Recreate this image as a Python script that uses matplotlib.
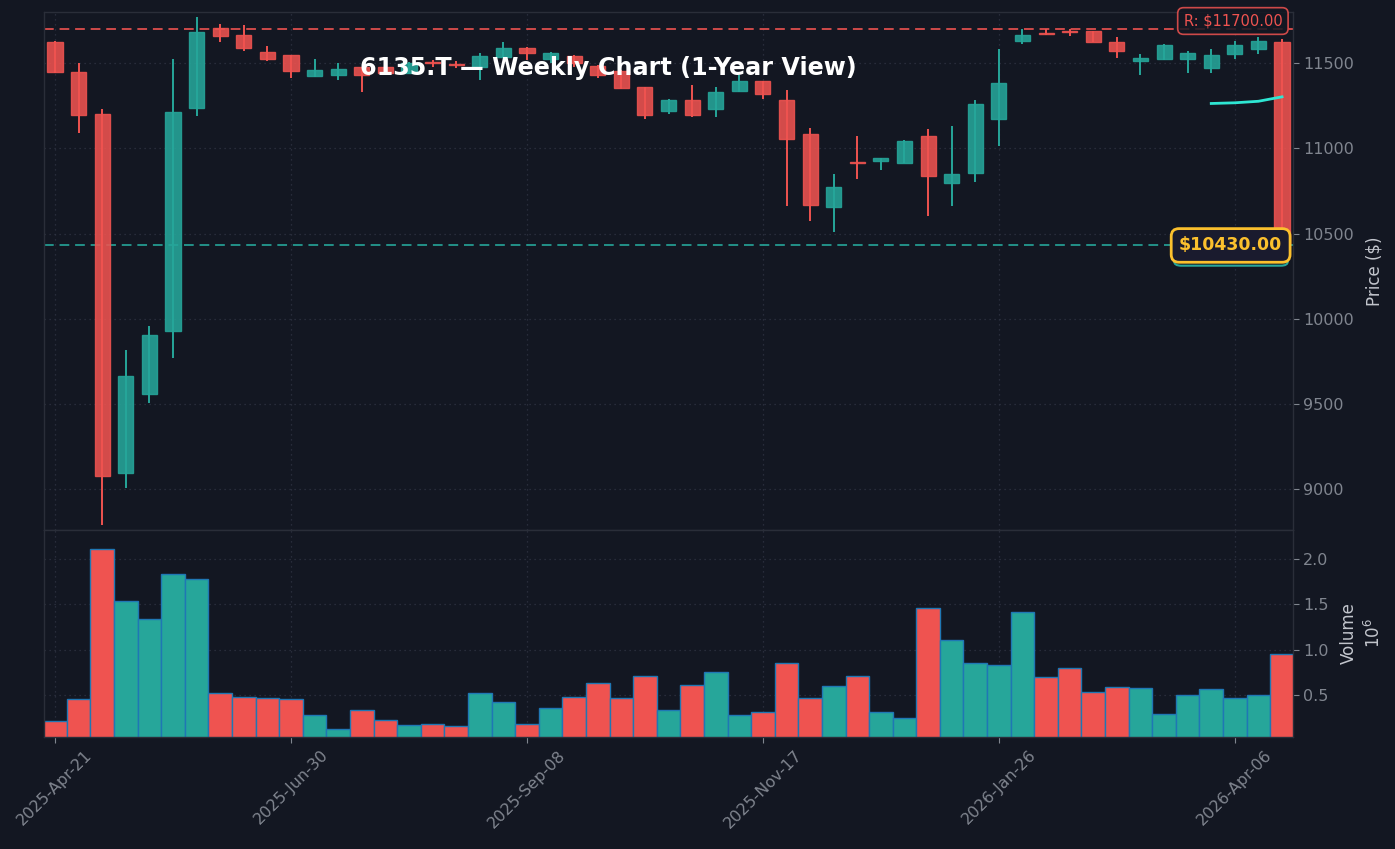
import matplotlib
matplotlib.use("Agg")
import matplotlib.pyplot as plt
import matplotlib.transforms as mtransforms
from matplotlib.patches import FancyBboxPatch
from matplotlib.ticker import FuncFormatter, FixedLocator
import numpy as np
import pandas as pd

# ---------------- data ----------------
start_date = "2025-04-21"
opens = [11625, 11445, 11204, 9093, 9557, 9930, 11239, 11704, 11663, 11563,
         11545, 11422, 11428, 11475, 11475, 11441, 11505, 11495, 11478, 11537,
         11590, 11522, 11543, 11484, 11455, 11357, 11216, 11286, 11228, 11339,
         11392, 11286, 11086, 10655, 10918, 10928, 10916, 11075, 10798, 10857,
         11171, 11627, 11673, 11684, 11686, 11625, 11512, 11522, 11522, 11469,
         11553, 11580, 11625]
highs = [11630, 11498, 11229, 9816, 9959, 11522, 11769, 11729, 11724, 11600,
         11548, 11522, 11498, 11478, 11480, 11505, 11518, 11510, 11557, 11624,
         11595, 11565, 11545, 11487, 11458, 11360, 11288, 11371, 11357, 11428,
         11395, 11341, 11118, 10847, 11071, 10945, 11048, 11112, 11129, 11282,
         11580, 11700, 11698, 11702, 11688, 11653, 11553, 11612, 11571, 11582,
         11629, 11653, 11639]
lows = [11443, 11090, 8787, 9008, 9508, 9767, 11190, 11625, 11572, 11512,
        11414, 11420, 11402, 11331, 11435, 11435, 11475, 11470, 11400, 11530,
        11518, 11498, 11475, 11414, 11348, 11173, 11202, 11184, 11184, 11331,
        11290, 10661, 10572, 10508, 10820, 10871, 10914, 10602, 10661, 10802,
        11014, 11614, 11663, 11657, 11625, 11531, 11429, 11520, 11443, 11443,
        11525, 11555, 10430]
closes = [11449, 11198, 9075, 9661, 9904, 11214, 11684, 11657, 11586, 11522,
          11451, 11457, 11463, 11429, 11440, 11498, 11500, 11490, 11543, 11590,
          11557, 11561, 11498, 11428, 11351, 11198, 11286, 11198, 11333, 11392,
          11316, 11057, 10669, 10775, 10912, 10943, 11045, 10839, 10851, 11261,
          11386, 11663, 11669, 11680, 11625, 11569, 11531, 11606, 11557, 11545,
          11604, 11631, 10430]
volumes = [212000, 458000, 2107000, 1535000, 1337000, 1832000, 1777000, 524000,
           480000, 469000, 458000, 282000, 129000, 337000, 227000, 173000,
           184000, 162000, 524000, 425000, 184000, 359000, 480000, 634000,
           469000, 711000, 337000, 612000, 755000, 282000, 315000, 854000,
           469000, 601000, 711000, 315000, 249000, 1458000, 1107000, 854000,
           832000, 1414000, 700000, 799000, 535000, 590000, 579000, 293000,
           502000, 568000, 469000, 502000, 953000]
ma_start = 49
ma_values = [11263, 11267, 11276, 11302]
resistance = 11700
current_price = 10430
title = "6135.T — Weekly Chart (1-Year View)"

# ---------------- style ----------------
BG = "#131722"
GRID = "#2f3442"
SPINE = "#2a2e39"
UP = "#26a69a"
DOWN = "#ef5350"
TICK = "#80858f"
LABEL = "#c3c6cd"

n = len(opens)
x = np.arange(n)
dates = pd.date_range(start_date, periods=n, freq="7D")
tick_idx = list(range(0, n, 10))
tick_lbl = [dates[i].strftime("%Y-%b-%d") for i in tick_idx]

fig = plt.figure(figsize=(13.95, 8.49), dpi=100, facecolor=BG)
ax = fig.add_axes([0.0315, 0.3757, 0.8953, 0.6102], facecolor=BG)
axv = fig.add_axes([0.0315, 0.1319, 0.8953, 0.2438], facecolor=BG, sharex=ax)

for a in (ax, axv):
    for s in a.spines.values():
        s.set_color(SPINE)
        s.set_linewidth(1.0)
    a.yaxis.tick_right()
    a.yaxis.set_label_position("right")
    a.tick_params(colors=TICK, labelsize=11.5, length=4, width=0.8)
    a.grid(True, linestyle=(0, (1, 3)), color=GRID, linewidth=0.9)
    a.set_axisbelow(True)

# candles
w = 0.64
for i in x:
    o, h, l, c = opens[i], highs[i], lows[i], closes[i]
    col = UP if c >= o else DOWN
    ax.vlines(i, l, h, color=col, linewidth=1.4, zorder=2)
    bot = min(o, c)
    height = max(abs(c - o), 6)
    ax.bar(i, height, bottom=bot, width=w, color=col, alpha=0.88,
           edgecolor=col, linewidth=1.0, zorder=3)

# moving average
ax.plot(x[ma_start:ma_start + len(ma_values)], ma_values, color="#2ee6d3",
        linewidth=2.0, zorder=4)

# reference lines
ax.axhline(resistance, color=DOWN, linestyle=(0, (5, 3)), linewidth=1.4, alpha=0.85, zorder=1)
ax.axhline(current_price, color=UP, linestyle=(0, (5, 3)), linewidth=1.4, alpha=0.85, zorder=1)

trans = mtransforms.blended_transform_factory(ax.transAxes, ax.transData)
ax.text(0.9915, 11747, f"R: ${resistance:.2f}", transform=trans, ha="right", va="center",
        fontsize=10.5, color=DOWN, zorder=6, clip_on=False,
        bbox=dict(boxstyle="round,pad=0.4", facecolor=BG, edgecolor=DOWN, alpha=0.85, linewidth=1.2))

# teal support tag peeking out under the current-price tag
tag = FancyBboxPatch((1177 / 1395, (849 - 264) / 849), 108 / 1395, 28 / 849,
                     boxstyle="round,pad=0.002,rounding_size=0.005",
                     transform=fig.transFigure, facecolor=BG, edgecolor=UP,
                     linewidth=1.5, zorder=5, clip_on=False)
ax.add_patch(tag)
ax.text(0.9915, current_price, f"${current_price:.2f}", transform=trans, ha="right", va="center",
        fontsize=12.5, color="#fbc02d", zorder=7, fontweight="bold",
        bbox=dict(boxstyle="round,pad=0.45", facecolor="#1a1b2e", edgecolor="#fbc02d", linewidth=2))

ax.set_ylim(8760, 11800)
ax.set_yticks([9000, 9500, 10000, 10500, 11000, 11500])
ax.set_ylabel("Price ($)", color=LABEL, fontsize=12, labelpad=8)
ax.tick_params(axis="x", labelbottom=False, length=0)

# volume
vcols = [UP if closes[i] >= opens[i] else DOWN for i in x]
axv.bar(x, volumes, width=1.0, color=vcols, edgecolor="#1f77b4", linewidth=1.0, zorder=2)
axv.set_ylim(40000, 2320000)
axv.yaxis.set_major_locator(FixedLocator([500000, 1000000, 1500000, 2000000]))
axv.yaxis.set_major_formatter(FuncFormatter(lambda v, p: f"{v/1e6:.1f}"))
axv.set_ylabel("Volume\n$10^6$", color=LABEL, fontsize=12, labelpad=8, linespacing=1.35)

axv.set_xlim(-0.47, n - 0.54)
axv.set_xticks(tick_idx)
axv.set_xticklabels(tick_lbl, rotation=45, ha="center")
axv.tick_params(axis="x", length=4)

fig.text(0.436, 0.92, title, ha="center", va="center", fontsize=17.2,
         fontweight="bold", color="white", zorder=10)

fig.savefig("out.png", dpi=100, facecolor=BG)
